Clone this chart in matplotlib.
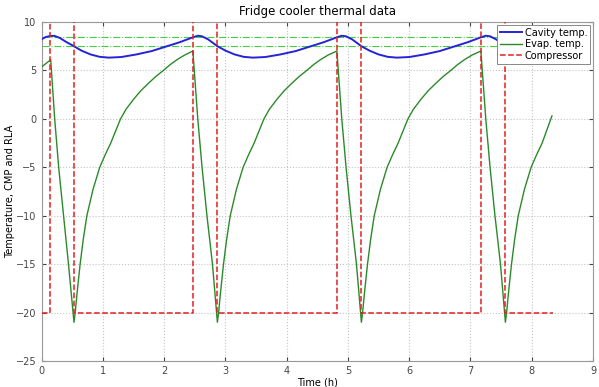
import matplotlib
matplotlib.use("Agg")
from matplotlib import pyplot as plt

# cavity temperature (blue)
cav_t = [0.00, 0.07, 0.14, 0.21, 0.30, 0.40, 0.53, 0.65, 0.80, 0.95, 1.10, 1.30, 1.55, 1.80,
         2.05, 2.25, 2.40, 2.47, 2.55, 2.62, 2.72, 2.87, 3.00, 3.15, 3.30, 3.45, 3.65, 3.90,
         4.15, 4.40, 4.60, 4.75, 4.82, 4.90, 4.97, 5.07, 5.22, 5.35, 5.50, 5.65, 5.80, 6.00,
         6.25, 6.50, 6.75, 6.95, 7.10, 7.17, 7.25, 7.32, 7.42, 7.57, 7.70, 7.85, 8.00, 8.15, 8.33]
cav_v = [8.22, 8.45, 8.55, 8.57, 8.35, 7.95, 7.50, 7.05, 6.65, 6.40, 6.32, 6.38, 6.65, 7.00,
         7.50, 7.90, 8.25, 8.42, 8.58, 8.52, 8.20, 7.50, 7.05, 6.65, 6.40, 6.32, 6.38, 6.65,
         7.00, 7.50, 7.90, 8.25, 8.42, 8.58, 8.52, 8.20, 7.50, 7.05, 6.65, 6.40, 6.32, 6.38,
         6.65, 7.00, 7.50, 7.90, 8.25, 8.42, 8.58, 8.52, 8.20, 7.50, 7.05, 6.65, 6.40, 6.32, 6.36]

# evaporator temperature (green)
evap_t = [0.00, 0.15, 0.215, 0.28, 0.36, 0.44,
          0.53, 0.55, 0.58, 0.63, 0.68, 0.74, 0.84, 0.95, 1.04, 1.13, 1.29, 1.38, 1.50, 1.62,
          1.75, 1.87, 1.99, 2.10, 2.21, 2.34, 2.47, 2.55, 2.62, 2.70, 2.79,
          2.87, 2.89, 2.92, 2.97, 3.02, 3.08, 3.18, 3.29, 3.38, 3.47, 3.63, 3.72, 3.84, 3.96,
          4.09, 4.21, 4.33, 4.44, 4.55, 4.68, 4.82, 4.90, 4.97, 5.05, 5.14,
          5.22, 5.24, 5.27, 5.32, 5.37, 5.43, 5.53, 5.64, 5.73, 5.82, 5.98, 6.07, 6.19, 6.31,
          6.44, 6.56, 6.68, 6.79, 6.90, 7.03, 7.17, 7.25, 7.32, 7.40, 7.49,
          7.57, 7.59, 7.62, 7.67, 7.72, 7.78, 7.88, 7.99, 8.08, 8.17, 8.33]
evap_v = [5.35, 6.10, 0.0, -5.0, -10.0, -15.0,
          -21.0, -20.0, -18.0, -15.0, -12.5, -10.0, -7.3, -5.0, -3.7, -2.5, 0.0, 1.0, 2.0, 2.9,
          3.7, 4.4, 5.0, 5.6, 6.1, 6.6, 7.0, 0.0, -5.0, -10.0, -15.0,
          -21.0, -20.0, -18.0, -15.0, -12.5, -10.0, -7.3, -5.0, -3.7, -2.5, 0.0, 1.0, 2.0, 2.9,
          3.7, 4.4, 5.0, 5.6, 6.1, 6.6, 7.0, 0.0, -5.0, -10.0, -15.0,
          -21.0, -20.0, -18.0, -15.0, -12.5, -10.0, -7.3, -5.0, -3.7, -2.5, 0.0, 1.0, 2.0, 2.9,
          3.7, 4.4, 5.0, 5.6, 6.1, 6.6, 7.0, 0.0, -5.0, -10.0, -15.0,
          -21.0, -20.0, -18.0, -15.0, -12.5, -10.0, -7.3, -5.0, -3.7, -2.5, 0.3]

# compressor state (switch times, level after the switch); "on" level sits above the plot
comp_t = [0, 0.14, 0.53, 2.47, 2.87, 4.82, 5.22, 7.17, 7.57, 8.34]
comp_v = [-20, 12, -20, 12, -20, 12, -20, 12, -20, -20]

# thermostat limits
t_high = 8.5
t_low = 7.5

fig = plt.figure(figsize=(5.99, 3.87), dpi=100)
ax = fig.add_axes([0.0693, 0.0672, 0.9207, 0.876])

ax.hlines([t_high, t_low], 0, 8.34, colors='#3fd23f', linestyles='-.', linewidth=0.8, zorder=2)
ax.plot(cav_t, cav_v, color='#2424d6', lw=1.4, label='Cavity temp.', zorder=4)
ax.plot(evap_t, evap_v, color='#2a8a2a', lw=1.0, label='Evap. temp.', zorder=3)
ax.step(comp_t, comp_v, where='post', color='#e02020', ls='--', lw=1.1, label='Compressor', zorder=5)

ax.set_xlim(0, 9)
ax.set_ylim(-25, 10)
ax.set_xticks(range(0, 10))
ax.set_yticks(range(-25, 11, 5))
ax.grid(True, ls=':', color='#c4c4c4', lw=0.8)
ax.tick_params(direction='in', labelsize=7, colors='#444444', top=True, right=True, length=3)
for s in ax.spines.values():
    s.set_color('#999999')

ax.set_title('Fridge cooler thermal data', fontsize=8.5, pad=5)
ax.set_xlabel('Time (h)', fontsize=7, labelpad=1)
ax.set_ylabel('Temperature, CMP and RLA', fontsize=7, labelpad=1)

leg = ax.legend(loc='upper right', fontsize=7, handlelength=2.2, handletextpad=0.3,
                borderpad=0.3, labelspacing=0.15, fancybox=False, framealpha=1,
                borderaxespad=0.3)
leg.get_frame().set_edgecolor('#888888')
leg.get_frame().set_linewidth(0.7)

plt.savefig('out.png', dpi=100)
